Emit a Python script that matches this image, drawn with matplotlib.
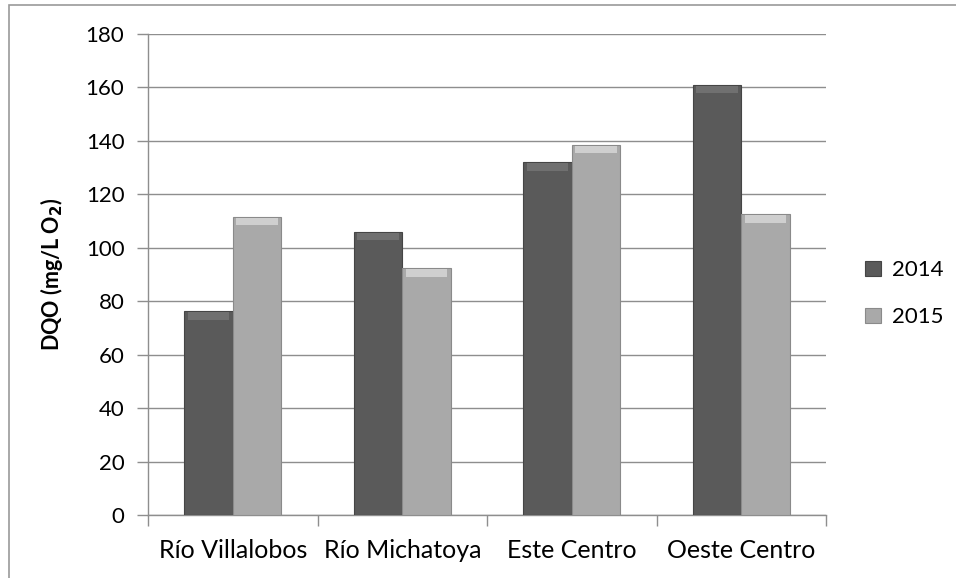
import numpy as np
import matplotlib.pyplot as plt
from matplotlib.patches import Rectangle

plt.rcParams['font.family'] = ['Lato', 'DejaVu Sans']

# data
categories = ["Río Villalobos", "Río Michatoya", "Este Centro", "Oeste Centro"]
years = ["2014", "2015"]
dqo_2014 = [76.3, 106.0, 132.0, 161.0]
dqo_2015 = [111.6, 92.3, 138.5, 112.5]

col_2014 = "#5a5a5a"
col_2015 = "#a9a9a9"
grid_col = "#8e8e8e"

fig = plt.figure(figsize=(9.56, 5.78), dpi=100)
# outer chart frame
fig.patches.append(Rectangle((9 / 956, -0.05), 1.1, 1 - 5 / 578 + 0.05,
                             transform=fig.transFigure, fill=False,
                             edgecolor="#9a9a9a", linewidth=1.2))
ax = fig.add_axes([148 / 956, 1 - 515 / 578, (826 - 148) / 956, (515 - 34) / 578])

x = np.arange(len(categories))
w = 0.286
for vals, col, bev, edge, off, lab in [(dqo_2014, col_2014, "#707070", "#454545", -w / 2, years[0]),
                                       (dqo_2015, col_2015, "#cfcfcf", "#8a8a8a", w / 2, years[1])]:
    ax.bar(x + off, vals, width=w, color=col, edgecolor=edge,
           linewidth=0.8, label=lab, zorder=3)
    # bevel highlight on top
    ax.bar(x + off, [2.8] * len(vals), bottom=np.array(vals) - 3.2, width=w * 0.86,
           color=bev, linewidth=0, zorder=4)

ax.set_xlim(-0.5, len(categories) - 0.5)
ax.set_ylim(0, 180)
ax.set_yticks(np.arange(0, 181, 20))
ax.yaxis.grid(True, color=grid_col, linewidth=1.0, zorder=0)
ax.set_axisbelow(True)

ax.set_xticks(x)
ax.set_xticklabels(categories, fontsize=18)
ax.set_xticks(np.arange(-0.5, len(categories)), minor=True)
ax.tick_params(axis="x", which="major", length=0, pad=17)
ax.tick_params(axis="x", which="minor", length=8, color=grid_col, width=1)
ax.tick_params(axis="y", length=8, color=grid_col, width=1, labelsize=16, pad=9)

for s in ["top", "right"]:
    ax.spines[s].set_visible(False)
for s in ["left", "bottom"]:
    ax.spines[s].set_color(grid_col)
    ax.spines[s].set_linewidth(1.0)

ax.set_ylabel("DQO (mg/L O$_\\mathbf{2}$)", fontsize=15.5, fontweight="bold", labelpad=15)

handles, labels = ax.get_legend_handles_labels()
ax.legend(handles, labels, loc="center left", bbox_to_anchor=(1.028, 0.46), frameon=False,
          fontsize=16, handlelength=0.7, handleheight=0.7, handletextpad=0.5,
          labelspacing=1.2)

fig.savefig("out.png", dpi=100)
